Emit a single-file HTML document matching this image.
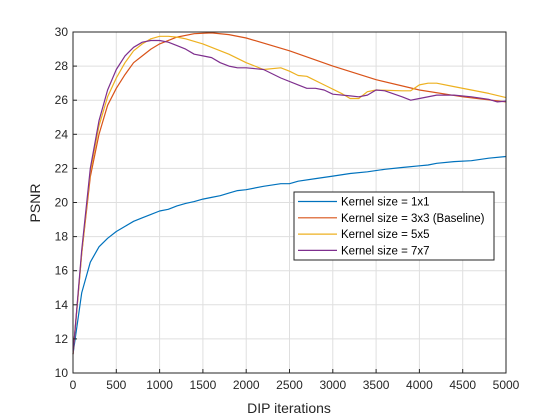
<!DOCTYPE html>
<html><head><meta charset="utf-8"><style>
body{margin:0;background:#fff;}
svg{display:block;font-family:"Liberation Sans",Arial,sans-serif;}
</style></head><body>
<svg id="chart" width="560" height="420" xmlns="http://www.w3.org/2000/svg">
<rect x="0" y="0" width="560" height="420" fill="#fff"/>
<rect x="73" y="32" width="433" height="341" fill="#fff"/>
<g id="grid"></g>
<g id="series"></g>
<rect x="73" y="32" width="433" height="341" fill="none" stroke="#262626" stroke-width="1"/>
<g id="ticks"></g>
<text x="289" y="413" font-size="14" text-anchor="middle" fill="#262626">DIP iterations</text>
<text x="0" y="0" font-size="14" text-anchor="middle" fill="#262626" transform="translate(40,203) rotate(-90)">PSNR</text>
<g id="legend"></g>
</svg>
<script>
const xTicks=[0,500,1000,1500,2000,2500,3000,3500,4000,4500,5000];
const yTicks=[10,12,14,16,18,20,22,24,26,28,30];
const seriesNames=["Kernel size = 1x1","Kernel size = 3x3 (Baseline)","Kernel size = 5x5","Kernel size = 7x7"];
const seriesColors=["#0072BD","#D95319","#EDB120","#7E2F8E"];
const x1=[0,100,200,300,400,500,600,700,800,900,1000,1100,1200,1300,1400,1500,1600,1700,1800,1900,2000,2200,2400,2500,2600,2800,3000,3200,3400,3600,3800,4000,4100,4200,4400,4600,4800,5000];
const y1=[11.1,14.7,16.5,17.4,17.9,18.3,18.6,18.9,19.1,19.3,19.5,19.6,19.8,19.95,20.05,20.2,20.3,20.4,20.55,20.7,20.75,20.95,21.1,21.1,21.25,21.4,21.55,21.7,21.8,21.95,22.05,22.15,22.2,22.3,22.4,22.45,22.6,22.7];
const x2=[0,100,200,300,400,500,600,700,800,900,1000,1200,1400,1600,1800,2000,2500,3000,3500,4000,4500,5000];
const y2=[11.1,17,21.5,24,25.7,26.7,27.5,28.2,28.6,29,29.3,29.7,29.9,29.95,29.85,29.65,28.9,28,27.2,26.6,26.2,25.9];
const x3=[0,100,200,300,400,500,600,700,800,900,1000,1100,1200,1300,1500,1800,2000,2200,2400,2500,2600,2700,2900,3100,3200,3300,3400,3500,3800,3900,4000,4100,4200,4400,4600,4800,5000];
const y3=[11.1,17,21.8,24.5,26.2,27.3,28.2,28.9,29.3,29.6,29.75,29.75,29.7,29.6,29.3,28.7,28.2,27.8,27.9,27.7,27.45,27.4,26.9,26.4,26.1,26.1,26.5,26.6,26.55,26.55,26.9,27,27,26.8,26.6,26.4,26.15];
const x4=[0,100,200,300,400,500,600,700,800,900,1000,1100,1200,1300,1400,1500,1600,1700,1800,1900,2000,2200,2400,2600,2700,2800,2900,3000,3200,3300,3400,3500,3600,3800,3900,4000,4200,4400,4600,4800,4900,5000];
const y4=[11.1,17.2,22,24.8,26.6,27.8,28.6,29.1,29.4,29.5,29.5,29.4,29.2,29,28.7,28.6,28.5,28.2,28,27.9,27.9,27.8,27.3,26.9,26.7,26.7,26.6,26.35,26.25,26.2,26.3,26.6,26.55,26.2,26.0,26.1,26.3,26.3,26.2,26.05,25.9,25.95];
const xs=[x1,x2,x3,x4], ys=[y1,y2,y3,y4];
const NS="http://www.w3.org/2000/svg";
const L=73,R=506,T=32,B=373;
const sx=v=>L+(v-0)/5000*(R-L);
const sy=v=>B-(v-10)/20*(B-T);
function mk(tag,attrs,parent){const e=document.createElementNS(NS,tag);for(const k in attrs)e.setAttribute(k,attrs[k]);parent.appendChild(e);return e;}
const grid=document.getElementById('grid'),ticks=document.getElementById('ticks');
xTicks.forEach(v=>{
  const g=mk('line',{x1:sx(v),x2:sx(v),y1:T,y2:B,stroke:'#dfdfdf','stroke-width':1},grid);
  
  
  const tk=mk('line',{x1:sx(v),x2:sx(v),y1:B,y2:B-4,stroke:'#262626'},ticks);
  
  
  const t=mk('text',{x:sx(v),y:B+16,'font-size':12,'text-anchor':'middle',fill:'#262626'},ticks);
  t.textContent=v;
  
  
});
yTicks.forEach(v=>{
  const g=mk('line',{x1:L,x2:R,y1:sy(v),y2:sy(v),stroke:'#dfdfdf','stroke-width':1},grid);
  
  
  const tk=mk('line',{x1:L,x2:L+4,y1:sy(v),y2:sy(v),stroke:'#262626'},ticks);
  
  
  const t=mk('text',{x:L-5,y:sy(v)+4,'font-size':12,'text-anchor':'end',fill:'#262626'},ticks);
  t.textContent=v;
  
  
});
const ser=document.getElementById('series');
xs.forEach((xa,i)=>{
  const pts=xa.map((x,j)=>sx(x).toFixed(1)+','+sy(ys[i][j]).toFixed(1)).join(' ');
  const p=mk('polyline',{points:pts,fill:'none',stroke:seriesColors[i],'stroke-width':1.2,'stroke-linejoin':'round'},ser);
  
  
});
const leg=document.getElementById('legend');
const box=mk('rect',{x:294,y:192,width:200,height:68,fill:'#fff',stroke:'#262626','stroke-width':1},leg);


seriesNames.forEach((n,i)=>{
  const y=201.5+i*16.3;
  const l=mk('line',{x1:298,x2:337,y1:y,y2:y,stroke:seriesColors[i],'stroke-width':1.2},leg);
  
  
  const t=mk('text',{x:341,y:y+4,'font-size':11.5,fill:'#000'},leg);
  t.textContent=n;
  
  
});
</script>
</body></html>
